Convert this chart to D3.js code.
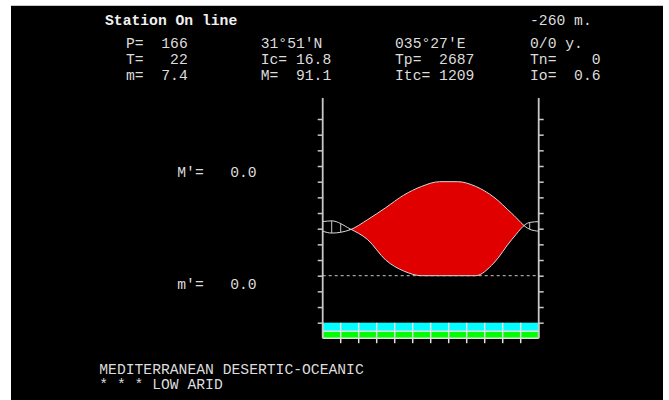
<!DOCTYPE html>
<html>
<head>
<meta charset="utf-8">
<script src="https://cdn.jsdelivr.net/npm/d3@7"></script>
<style>
  html, body { margin: 0; padding: 0; background: #ffffff; }
  svg { display: block; }
  text { font-family: "Liberation Mono", "DejaVu Sans Mono", monospace; font-size: 14.7px; fill: #dcdcdc; white-space: pre; }
</style>
</head>
<body>
<svg id="chart" width="669" height="400"></svg>
<script>
// Monthly climate data (Jan..Dec)
const months = ["J", "F", "M", "A", "M", "J", "J", "A", "S", "O", "N", "D"];
const temperature = [13.6, 14.6, 17.9, 21.7, 25.7, 28.5, 30.0, 30.0, 28.5, 25.1, 19.9, 14.8]; // °C
const precipitation = [35, 30, 23, 10, 3, 0, 0, 0, 0, 8, 23, 34]; // mm
// Frost bands: 1 = free of frost
const frostCertain = [1, 1, 1, 1, 1, 1, 1, 1, 1, 1, 1, 1];
const frostProbable = [1, 1, 1, 1, 1, 1, 1, 1, 1, 1, 1, 1];
// Temperature axis ticks (°C)
const tempTicks = d3.range(-15, 51, 5);

// Header texts
const headerRows = [
  ["P=  166", "31°51'N", "035°27'E", "0/0 y."],
  ["T=   22", "Ic= 16.8", "Tp=  2687", "Tn=    0"],
  ["m=  7.4", "M=  91.1", "Itc= 1209", "Io=  0.6"]
];
const stationName = "Station On line";
const altitude = "-260 m.";
const extremes = ["M'=   0.0", "m'=   0.0"];
const bioclimate = ["MEDITERRANEAN DESERTIC-OCEANIC", "* * * LOW ARID"];

const svg = d3.select("#chart");

// black panel
svg.append("rect").attr("x", 11).attr("y", 5).attr("width", 652).attr("height", 395).attr("fill", "#000");
svg.append("line").attr("x1", 11).attr("x2", 663).attr("y1", 5.5).attr("y2", 5.5).attr("stroke", "#c8c8c8");

// scales
const x = d3.scaleLinear().domain([0, 12]).range([322.7, 538.7]);
const y = d3.scaleLinear().domain([-15, 50]).range([322.7, 119]);
const yP = v => y(v / 2); // 2 mm of rain = 1 °C
const plotTop = 98, plotBottom = y(-15);

// points at month centres, closed with Dec/Jan averages on both edges
function series(vals) {
  const edge = (vals[0] + vals[11]) / 2;
  const pts = [[0, edge]];
  vals.forEach((v, i) => pts.push([i + 0.5, v]));
  pts.push([12, edge]);
  return pts;
}
const tPts = series(temperature);
const pPts = series(precipitation);

const curve = d3.curveMonotoneX;
const tLine = d3.line().x(d => x(d[0])).y(d => y(d[1])).curve(curve);
const pLine = d3.line().x(d => x(d[0])).y(d => yP(d[1])).curve(curve);
const belowT = d3.area().x(d => x(d[0])).y0(plotBottom).y1(d => y(d[1])).curve(curve);
const aboveT = d3.area().x(d => x(d[0])).y0(plotTop).y1(d => y(d[1])).curve(curve);
const belowP = d3.area().x(d => x(d[0])).y0(plotBottom).y1(d => yP(d[1])).curve(curve);
const aboveP = d3.area().x(d => x(d[0])).y0(plotTop).y1(d => yP(d[1])).curve(curve);

const defs = svg.append("defs");
defs.append("clipPath").attr("id", "clipBelowT").append("path").attr("d", belowT(tPts));
defs.append("clipPath").attr("id", "clipAboveT").append("path").attr("d", aboveT(tPts));
defs.append("clipPath").attr("id", "clipBelowP").append("path").attr("d", belowP(pPts));

// zero line
svg.append("line")
  .attr("x1", x(0)).attr("x2", x(12)).attr("y1", y(0)).attr("y2", y(0))
  .attr("stroke", "#c8c8c8").attr("stroke-dasharray", "3,3");

// arid period: temperature above precipitation
svg.append("path").attr("d", aboveP(pPts)).attr("fill", "#e00000").attr("clip-path", "url(#clipBelowT)");

// humid period: vertical hatching where precipitation is above temperature
const hatch = svg.append("g").attr("clip-path", "url(#clipAboveT)")
  .append("g").attr("clip-path", "url(#clipBelowP)");
hatch.selectAll("line").data(d3.range(1, 24).map(k => k / 2)).join("line")
  .attr("x1", d => x(d)).attr("x2", d => x(d))
  .attr("y1", plotTop).attr("y2", plotBottom)
  .attr("stroke", "#c8c8c8").attr("stroke-width", 1);

// curves
svg.append("path").attr("d", tLine(tPts)).attr("fill", "none").attr("stroke", "#d8d8d8").attr("stroke-width", 1);
svg.append("path").attr("d", pLine(pPts)).attr("fill", "none").attr("stroke", "#d8d8d8").attr("stroke-width", 1);

// frost bands
const bandH = [[plotBottom, 8.3], [plotBottom + 8.8, 6.7]];
const bandData = [frostCertain, frostProbable];
const bandColor = ["#00ffff", "#00ff00"];
bandData.forEach((arr, b) => {
  svg.append("g").selectAll("rect").data(arr).join("rect")
    .attr("x", (d, i) => x(i)).attr("y", bandH[b][0])
    .attr("width", x(1) - x(0)).attr("height", bandH[b][1])
    .attr("fill", d => d ? bandColor[b] : "#000");
});
const bandBottom = plotBottom + 15.5;
svg.append("g").selectAll("line").data(d3.range(0, 13)).join("line")
  .attr("x1", d => x(d)).attr("x2", d => x(d))
  .attr("y1", plotBottom).attr("y2", d => (d > 0 && d < 12) ? bandBottom + 5 : bandBottom)
  .attr("stroke", "#e0e0e0").attr("stroke-width", 1.5);
[plotBottom + 8.5, bandBottom].forEach(yy => {
  svg.append("line").attr("x1", x(0)).attr("x2", x(12)).attr("y1", yy).attr("y2", yy)
    .attr("stroke", "#e0e0e0").attr("stroke-width", 1.5);
});

// axes
const axisL = d3.axisLeft(y).tickValues(tempTicks).tickSize(5).tickFormat("");
const axisR = d3.axisRight(y).tickValues(tempTicks).tickSize(5).tickFormat("");
[[axisL, x(0)], [axisR, x(12)]].forEach(([ax, xx]) => {
  const g = svg.append("g").attr("transform", `translate(${xx},0)`).call(ax);
  g.select(".domain").remove();
  g.selectAll(".tick line").attr("stroke", "#c8c8c8").attr("stroke-width", 1.5);
  g.append("line").attr("x1", 0).attr("x2", 0).attr("y1", plotTop).attr("y2", bandBottom)
    .attr("stroke", "#c8c8c8").attr("stroke-width", 1.8);
});

// header
svg.append("text").attr("x", 105).attr("y", 24.5).style("font-weight", "bold").style("fill", "#f0f0f0").text(stationName);
svg.append("text").attr("x", 530).attr("y", 24.5).text(altitude);
const colX = [126, 260.7, 395, 530];
const rowY = [47.5, 63.5, 79.5];
headerRows.forEach((row, r) => row.forEach((t, c) => {
  svg.append("text").attr("x", colX[c]).attr("y", rowY[r]).text(t);
}));

// extremes labels
svg.append("text").attr("x", 177.3).attr("y", 176.5).text(extremes[0]);
svg.append("text").attr("x", 177.3).attr("y", 289).text(extremes[1]);

// bioclimate
svg.append("text").attr("x", 99.3).attr("y", 373.5).text(bioclimate[0]);
svg.append("text").attr("x", 99.3).attr("y", 388.5).text(bioclimate[1]);
</script>
</body>
</html>
